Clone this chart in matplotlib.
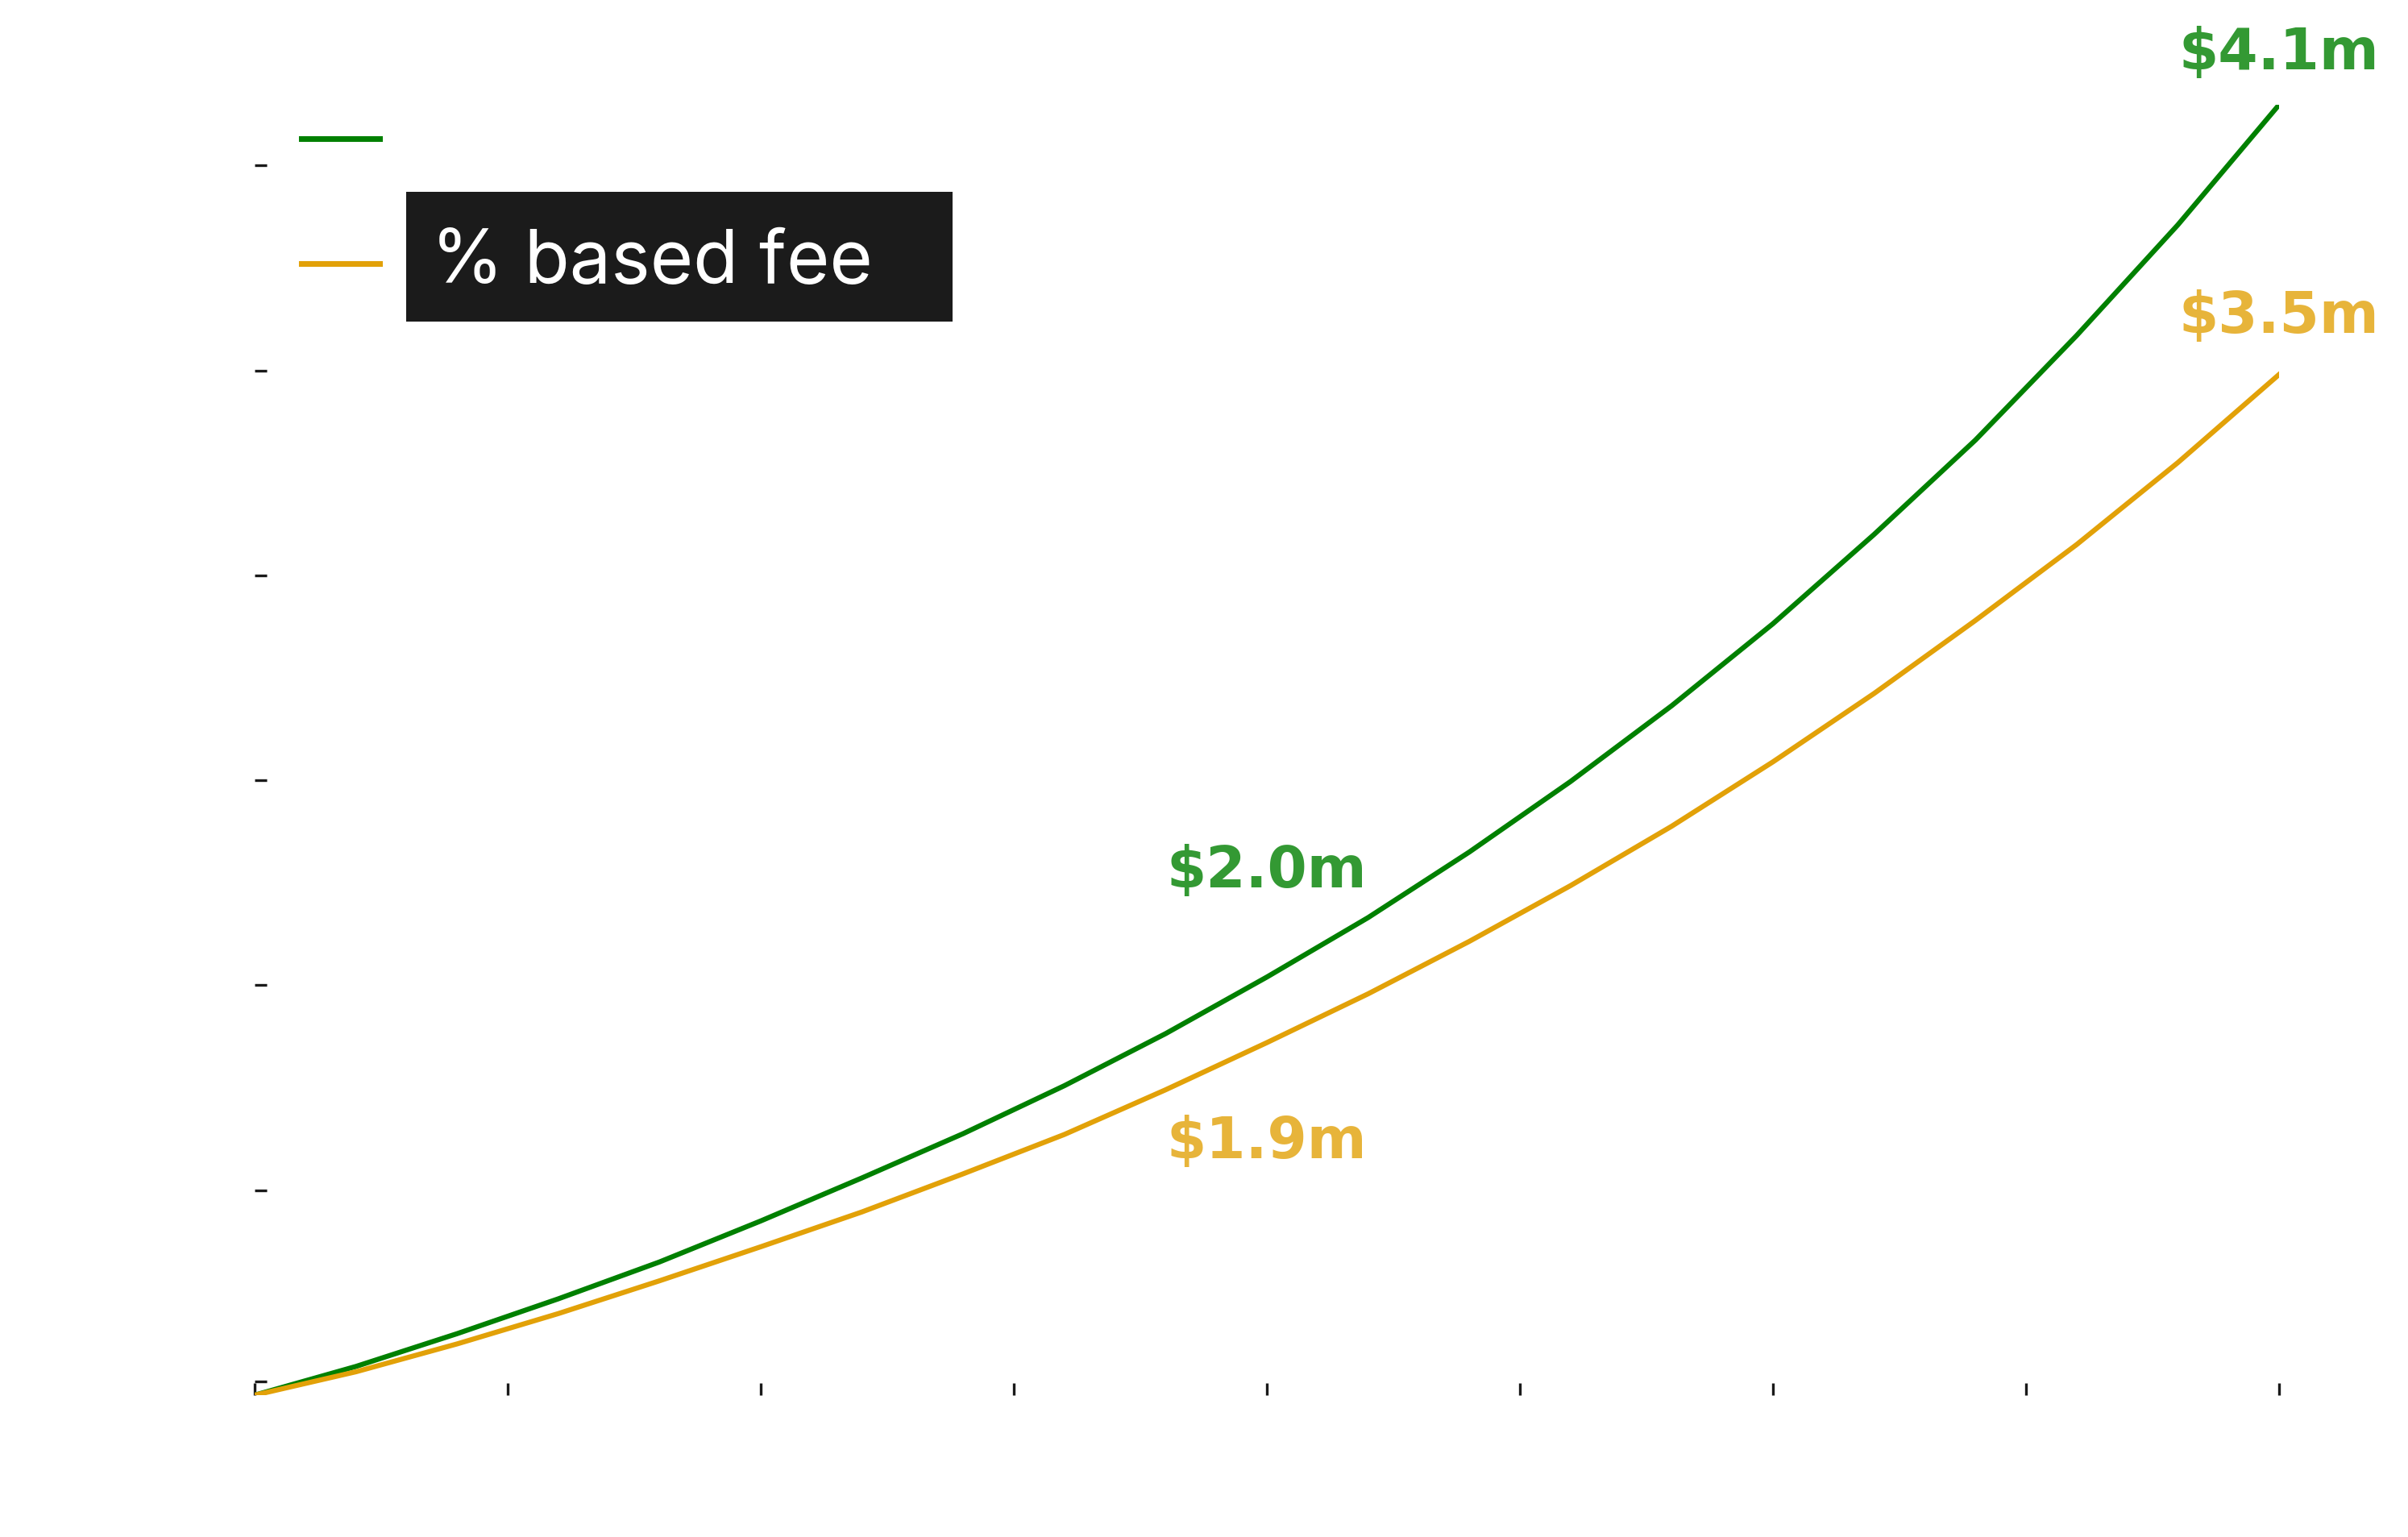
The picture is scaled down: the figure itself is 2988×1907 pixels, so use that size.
import matplotlib
matplotlib.use("Agg")
import matplotlib.pyplot as plt
from matplotlib.patches import Rectangle
from matplotlib.transforms import IdentityTransform

# values ($m, every 2 years)
years = list(range(0, 41, 2))
flat_fee = [1.00, 1.07, 1.15, 1.235, 1.325, 1.425, 1.53, 1.638, 1.755, 1.882, 2.02,
            2.165, 2.325, 2.497, 2.682, 2.882, 3.10, 3.33, 3.585, 3.855, 4.148]
pct_fee = [1.00, 1.057, 1.125, 1.199, 1.279, 1.362, 1.447, 1.54, 1.636, 1.745, 1.86,
           1.979, 2.107, 2.243, 2.388, 2.545, 2.712, 2.89, 3.075, 3.275, 3.49]
labels = ["Flat fee", "% based fee"]
x_ticks = [0, 5, 10, 15, 20, 25, 30, 35, 40]
y_ticks = [1.033, 1.5, 2.0, 2.5, 3.0, 3.5, 4.0]

green = "#008000"
gold = "#e2a108"

fig = plt.figure(figsize=(2988 / 300, 1907 / 300), dpi=300)
ax = fig.add_axes([316 / 2988, 1 - 1731 / 1907, (2828 - 316) / 2988, (1731 - 130) / 1907])

ax.plot(years, flat_fee, color=green, lw=1.5, label=labels[0])
ax.plot(years, pct_fee, color=gold, lw=1.5, label=labels[1])

ax.set_xlim(years[0], years[-1])
ax.set_ylim(flat_fee[0], flat_fee[-1])
ax.set_xticks(x_ticks)
ax.set_yticks(y_ticks)
ax.tick_params(direction="in", color="#1a1a1a", labelcolor="white")
for s in ax.spines.values():
    s.set_visible(False)

# end and middle value labels
mid = years.index(20)
lab = dict(fontsize=17, fontweight="bold", ha="center", va="baseline",
           textcoords="offset points", alpha=0.8, annotation_clip=False)
ax.annotate(f"${flat_fee[-1]:.1f}m", (years[-1], flat_fee[-1]), xytext=(0, 10.6), color=green, **lab)
ax.annotate(f"${pct_fee[-1]:.1f}m", (years[-1], pct_fee[-1]), xytext=(0, 12.4), color=gold, **lab)
ax.annotate(f"${flat_fee[mid]:.1f}m", (years[mid], flat_fee[mid]), xytext=(0, 26.6), color=green, **lab)
ax.annotate(f"${pct_fee[mid]:.1f}m", (years[mid], pct_fee[mid]), xytext=(0, -34.3), color=gold, **lab)

leg = ax.legend(loc="upper left", bbox_to_anchor=(0.023, 1.0006), frameon=False,
                prop={"family": ["Inter", "DejaVu Sans"], "size": 22}, labelcolor="white",
                handlelength=1.06, handletextpad=0.695, labelspacing=0.75,
                borderpad=0, borderaxespad=0)
for h in leg.legend_handles:
    h.set_linewidth(1.7)
    h.set_ydata([y - 1.9 for y in h.get_ydata()])

# dark box behind the second legend label
fig.canvas.draw()
bb = leg.get_texts()[1].get_window_extent()
box_top = bb.y1 + 46
ax.add_patch(Rectangle((bb.x0 - 31, box_top - 161), 678, 161, transform=IdentityTransform(),
                       fc="#1b1b1b", ec="none", zorder=1, clip_on=False))

fig.savefig("out.png", dpi=300)
